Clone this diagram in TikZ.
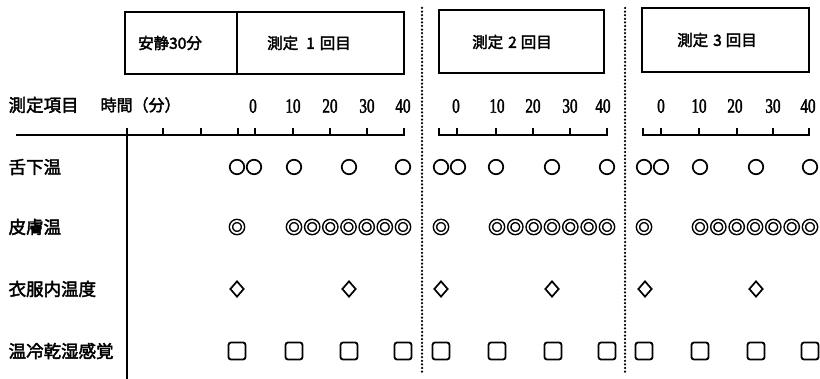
\documentclass[tikz,border=0pt]{standalone}
\usepackage{fontspec}
\usetikzlibrary{shapes.geometric}
\newfontfamily\jpfont[FakeBold=2.4]{Noto Sans CJK JP}
\newfontfamily\numfont[FakeStretch=0.74,FakeBold=1.8]{Liberation Serif}
\begin{document}
\begin{tikzpicture}[x=1pt,y=-1pt,line width=1.2pt,
  lbl/.style={font=\jpfont\fontsize{17.5}{17.5}\selectfont,inner sep=0pt,anchor=west},
  boxtxt/.style={font=\jpfont\fontsize{15.5}{15.5}\selectfont,inner sep=0pt},
  numlbl/.style={font=\numfont\fontsize{20.5}{20.5}\selectfont,inner sep=0pt},
  hdr/.style={draw,line width=1.5pt,inner sep=0pt,minimum height=62pt},
  sep/.style={line width=2.5pt,dash pattern=on 0pt off 3.6pt,line cap=round},
  axis/.style={line width=1.5pt},
  mcirc/.style={circle,draw,minimum size=14.5pt,inner sep=0pt,line width=1.7pt},
  mdbl/.style={circle,draw,double,double distance=1.7pt,minimum size=12pt,inner sep=0pt,line width=1.5pt},
  mdia/.style={diamond,draw,minimum width=14pt,minimum height=16pt,inner sep=0pt,line width=1.7pt},
  msq/.style={rectangle,rounded corners=2.5pt,draw,minimum size=17pt,inner sep=0pt,line width=1.8pt}]
\useasboundingbox (0,0) rectangle (820,379);

% header boxes
\node[hdr,minimum width=112pt] (b0) at (181,43) {};
\node[hdr,minimum width=167pt] (b1) at (320.5,43) {};
\node[hdr,minimum width=165pt,minimum height=63pt] (b2) at (521.5,41.5) {};
\node[hdr,minimum width=167pt,minimum height=64pt] (b3) at (725.5,40) {};
\node[boxtxt] (t0) at (170,43) {安静30分};
\node[boxtxt] (t1) at (309,43) {測定\hspace{8pt}1\hspace{5pt}回目};
\node[boxtxt] (t2) at (512,42) {測定\hspace{5pt}2\hspace{4pt}回目};
\node[boxtxt] (t3) at (717,40) {測定\hspace{5pt}3\hspace{4pt}回目};

% separators
\coordinate (s1a) at (422,8); \coordinate (s1b) at (422,372);
\coordinate (s2a) at (625,8); \coordinate (s2b) at (625,372);
\draw[sep] (s1a) -- (s1b);
\draw[sep] (s2a) -- (s2b);

% column headings
\node[lbl] (h1) at (8,105) {測定項目};
\node[lbl,font=\jpfont\fontsize{16}{16}\selectfont] (h2) at (100,105) {時間（分）};

% axis 1
\draw[axis] (16,135) -- (404,135) -- (404,128);
\foreach \x in {163,201,238,255,293,330,367} \draw[axis] (\x,135) -- (\x,128);
\draw[line width=1.8pt] (127,128) -- (127,379);
% axis 2
\draw[axis] (439,128) -- (439,135) -- (607,135) -- (607,128);
\foreach \x in {457,496,533,570} \draw[axis] (\x,135) -- (\x,128);
% axis 3
\draw[axis] (643,128) -- (643,135) -- (809,135) -- (809,128);
\foreach \x in {661,699,737,773} \draw[axis] (\x,135) -- (\x,128);

% tick numbers
\foreach \x/\t [count=\i] in {253/0,293/10,330/20,367/30,403/40} \node[numlbl] (na\i) at (\x,106) {\t};
\foreach \x/\t [count=\i] in {456/0,497/10,533/20,570/30,603/40} \node[numlbl] (nb\i) at (\x,106) {\t};
\foreach \x/\t [count=\i] in {661/0,699/10,735/20,773/30,808/40} \node[numlbl] (nc\i) at (\x,106) {\t};

% row labels
\node[lbl] (r1) at (8,167) {舌下温};
\node[lbl] (r2) at (8,227) {皮膚温};
\node[lbl] (r3) at (8,289) {衣服内温度};
\node[lbl] (r4) at (8,351) {温冷乾湿感覚};

% row 1: circles
\foreach \x [count=\i] in {237,254,294,349,403,441,458,496,552,607,644,661,700,756,810}
  \node[mcirc] (c\i) at (\x,167) {};
% row 2: double circles
\foreach \x [count=\i] in {237,294,312.2,330.3,348.5,366.7,384.8,403,
                           441,497,515.3,533.7,552,570.3,588.7,607,
                           644,700,718.3,736.7,755,773.3,791.7,810}
  \node[mdbl] (d\i) at (\x,227) {};
% row 3: diamonds
\foreach \x [count=\i] in {237,349,441,552,645,756}
  \node[mdia] (q\i) at (\x,289) {};
% row 4: squares
\foreach \x [count=\i] in {237,294,349,403,441,497,553,607,644,700,756,810}
  \node[msq] (s\i) at (\x,351) {};
\end{tikzpicture}
\end{document}
